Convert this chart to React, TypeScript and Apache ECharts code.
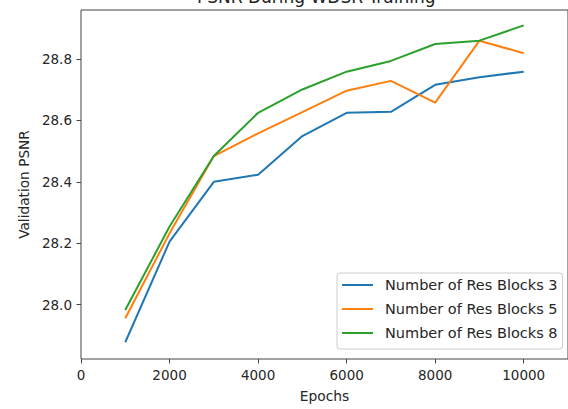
import React, { useEffect, useRef } from "react";
import * as echarts from "echarts";

const epochs = [1000, 2000, 3000, 4000, 5000, 6000, 7000, 8000, 9000, 10000];
const blocks3 = [27.877, 28.205, 28.4, 28.423, 28.549, 28.625, 28.628, 28.716, 28.741, 28.759];
const blocks5 = [27.955, 28.232, 28.484, 28.558, 28.627, 28.697, 28.729, 28.658, 28.86, 28.819];
const blocks8 = [27.982, 28.254, 28.484, 28.625, 28.701, 28.759, 28.794, 28.849, 28.86, 28.91];
const seriesNames = ["Number of Res Blocks 3", "Number of Res Blocks 5", "Number of Res Blocks 8"];
const xTicks = [0, 2000, 4000, 6000, 8000, 10000];
const yTicks = [28.0, 28.2, 28.4, 28.6, 28.8];
const colors = ["#1f77b4", "#ff7f0e", "#2ca02c"];

const FONT = "DejaVu Sans";

export default function App() {
  const ref = useRef<HTMLDivElement>(null);
  useEffect(() => {
    document.body.style.margin = "0";
    const chart = echarts.init(ref.current!, undefined, { renderer: "svg" });
    const all = [blocks3, blocks5, blocks8];
    chart.setOption({
      animation: false,
      backgroundColor: "#ffffff",
      title: {
        text: "PSNR During WDSR Training",
        left: 197,
        top: -12,
        padding: 0,
        textStyle: { fontFamily: FONT, fontSize: 17, fontWeight: "normal", color: "#222" },
      },
      grid: {
        left: 81,
        right: -5,
        top: 10,
        bottom: 50,
        show: true,
        borderColor: "#444",
        borderWidth: 1,
        backgroundColor: "#fff",
      },
      legend: {
        orient: "vertical",
        left: 337,
        top: 273,
        data: seriesNames,
        icon: "rect",
        itemWidth: 31,
        itemHeight: 2,
        itemGap: 8,
        padding: [4, 5, 8, 5],
        borderColor: "#cccccc",
        borderWidth: 1,
        borderRadius: 3,
        backgroundColor: "rgba(255,255,255,0.8)",
        textStyle: {
          fontFamily: FONT,
          fontSize: 14.5,
          color: "#262626",
          lineHeight: 16,
          padding: [0, 0, 0, 7],
        },
      },
      xAxis: {
        type: "value",
        min: 0,
        max: 11000,
        name: "Epochs",
        nameLocation: "middle",
        nameGap: 30,
        nameTextStyle: { fontFamily: FONT, fontSize: 13.8, color: "#262626" },
        axisLine: { show: false },
        splitLine: { show: false },
        axisTick: {
          show: true,
          length: 4.5,
          lineStyle: { color: "#444" },
          customValues: xTicks,
        },
        axisLabel: {
          fontFamily: FONT,
          fontSize: 13.5,
          color: "#262626",
          margin: 9,
          customValues: xTicks,
          formatter: (v: number) => String(v),
        },
      },
      yAxis: {
        type: "value",
        min: 27.8224,
        max: 28.96,
        name: "Validation PSNR",
        nameLocation: "middle",
        nameGap: 50,
        nameTextStyle: { fontFamily: FONT, fontSize: 13.7, color: "#262626" },
        axisLine: { show: false },
        splitLine: { show: false },
        axisTick: {
          show: true,
          length: 4.5,
          lineStyle: { color: "#444" },
          customValues: yTicks,
        },
        axisLabel: {
          fontFamily: FONT,
          fontSize: 13.5,
          color: "#262626",
          margin: 9,
          customValues: yTicks,
          formatter: (v: number) => v.toFixed(1),
        },
      },
      series: seriesNames.map((name, i) => ({
        name,
        type: "line",
        showSymbol: false,
        symbol: "none",
        data: epochs.map((x, j) => [x, all[i][j]]),
        lineStyle: { width: 2, color: colors[i] },
        itemStyle: { color: colors[i] },
      })),
    });
    return () => chart.dispose();
  }, []);
  return <div ref={ref} style={{ width: 568, height: 409 }} />;
}
